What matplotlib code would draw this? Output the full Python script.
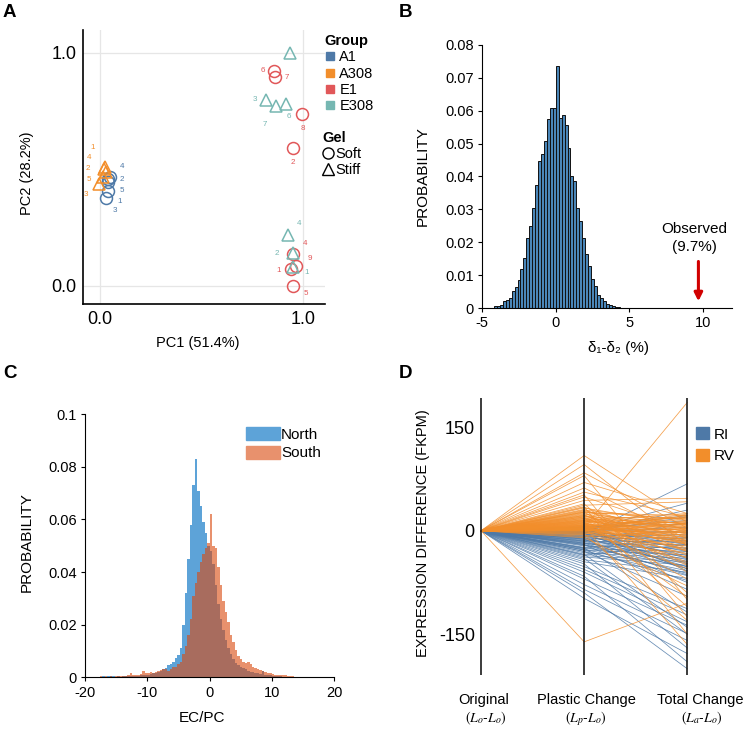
import numpy as np
import matplotlib
matplotlib.use("Agg")
from matplotlib import pyplot as plt
from matplotlib.lines import Line2D
from matplotlib.patches import Patch
import matplotlib.transforms as mtransforms

plt.rcParams['font.family'] = ['Liberation Sans', 'DejaVu Sans']

# ---------------- data: A (PCA) ----------------
a1_pc1 = [0.048, 0.041, 0.038, 0.039, 0.031]
a1_pc2 = [0.465, 0.456, 0.446, 0.408, 0.375]
a1_rep = ['4', '2', '3', '5', '1']

a308_pc1 = [0.025, 0.021, 0.028, 0.012, -0.005]
a308_pc2 = [0.511, 0.499, 0.489, 0.468, 0.435]
a308_rep = ['1', '4', '2', '5', '3']

e1_pc1 = [0.857, 0.864, 0.997, 0.951, 0.951, 0.964, 0.943, 0.951]
e1_pc2 = [0.923, 0.894, 0.737, 0.589, 0.136, 0.084, 0.070, 0.000]
e1_rep = ['6', '7', '8', '2', '4', '9', '1', '5']

e308_pc1 = [0.934, 0.819, 0.865, 0.915, 0.928, 0.951, 0.951]
e308_pc2 = [0.997, 0.797, 0.771, 0.778, 0.217, 0.139, 0.082]
e308_rep = ['', '3', '7', '6', '4', '2', '1']

# label offsets in pixels (dx, dy)
a1_off = [(12, 11), (13, 0), (7, -29), (14, 0), (13, -3)]
a308_off = [(-13, 19), (-15, 12), (-18, 3), (-14, -3), (-13, -10)]
e1_off = [(-11, 0), (11, 0), (0, -14), (0, -14), (12, 10), (14, 8), (-13, -1), (13, -8)]
e308_off = [(0, 0), (-11, 1), (-11, -18), (3, -12), (11, 12), (-16, 0), (14, -6)]

# ---------------- data: B (permutation histogram) ----------------
b_start, b_width = -4.2, 0.2
b_prob = [0.0006, 0.0006, 0.0010, 0.0021, 0.0024, 0.0031, 0.0052, 0.0065, 0.0085, 0.0118,
          0.0151, 0.0212, 0.0248, 0.0304, 0.0375, 0.0446, 0.0469, 0.0507, 0.0575, 0.0607,
          0.0607, 0.0736, 0.0578, 0.0588, 0.0558, 0.0486, 0.0403, 0.0386, 0.0305, 0.0264,
          0.0213, 0.0163, 0.0129, 0.0088, 0.0066, 0.0041, 0.0030, 0.0020, 0.0012, 0.0008,
          0.0005, 0.0003, 0.0002]
observed = 9.7

# ---------------- data: C (EC/PC histograms) ----------------
c_start, c_width = -18.0, 0.4
north = [0.0003, 0.0002, 0.0004, 0.0003, 0.0005, 0.0006, 0.0004, 0.0003, 0.0004, 0.0003,
         0.0004, 0.0005, 0.0004, 0.0006, 0.0005, 0.0006, 0.0006, 0.0008, 0.0008, 0.0010,
         0.0010, 0.0012, 0.0015, 0.0015, 0.0020, 0.0025, 0.0030, 0.0035, 0.0047, 0.0050,
         0.0060, 0.0075, 0.0085, 0.0110, 0.0200, 0.0320, 0.0450, 0.0580, 0.0730, 0.0830,
         0.0710, 0.0650, 0.0590, 0.0550, 0.0500, 0.0480, 0.0430, 0.0350, 0.0280, 0.0220,
         0.0180, 0.0140, 0.0110, 0.0090, 0.0070, 0.0055, 0.0045, 0.0040, 0.0035, 0.0030,
         0.0025, 0.0020, 0.0020, 0.0015, 0.0015, 0.0012, 0.0024, 0.0010, 0.0008, 0.0007,
         0.0006, 0.0005, 0.0004, 0.0004, 0.0003, 0.0003, 0.0002, 0.0002, 0.0001, 0.0001]
south = [0.0003, 0.0005, 0.0003, 0.0004, 0.0002, 0.0004, 0.0003, 0.0005, 0.0004, 0.0006,
         0.0005, 0.0006, 0.0007, 0.0015, 0.0008, 0.0009, 0.0010, 0.0012, 0.0025, 0.0015,
         0.0018, 0.0020, 0.0016, 0.0022, 0.0025, 0.0028, 0.0030, 0.0030, 0.0025, 0.0030,
         0.0040, 0.0040, 0.0050, 0.0060, 0.0090, 0.0120, 0.0160, 0.0220, 0.0310, 0.0360,
         0.0400, 0.0440, 0.0470, 0.0490, 0.0510, 0.0620, 0.0500, 0.0490, 0.0420, 0.0350,
         0.0290, 0.0250, 0.0210, 0.0160, 0.0135, 0.0105, 0.0080, 0.0068, 0.0060, 0.0055,
         0.0060, 0.0050, 0.0040, 0.0035, 0.0030, 0.0028, 0.0025, 0.0020, 0.0018, 0.0015,
         0.0014, 0.0010, 0.0010, 0.0009, 0.0008, 0.0008, 0.0006, 0.0005, 0.0004, 0.0003]

# ---------------- data: D (expression difference) ----------------
rv_plastic = [109, 96, 84, 80, 70, 62, 56, 52, 49, 44, 39, 37, 35, 33, 31, 30, 28, 27, 26, 25,
              24, 23, 22, 21, 20, 19, 18, 17, 16, 15, 14, 13, 12, 11, 10, 10, 9, 8, 8, 7,
              6, 6, 5, 5, 4, 4, 3, 3, 2, 2, 1, 1, 0, 0, -1, -2, -3, -4, -6, -8,
              -10, -161, -5, 12, 18, 15, 13, 11, 9, 7, 5, 3, 2, 1, 22, 27, 29, 34, 20, 16,
              14, 8, 6, 4]
rv_total = [12, -22, 4, -100, 25, -12, 20, -125, 0, 47, -90, 42, -150, 8, -30, 15, -5, -60, 22, -18,
            10, -40, 3, -8, 18, -110, -25, 6, -14, 25, -3, -50, 12, -20, 0, -70, 16, -35, 5, -10,
            20, -165, 186, -28, 9, -45, -6, 14, -16, 2, -33, 7, -2, -55, 11, -12, -22, 4, -38, -1,
            -80, -105, -130, -96, 10, -30, 19, -15, -4, 13, 1, -26, 22, -9, -20, 17, -2, -15, -48, 3,
            8, -18, -7, 24]
ri_plastic = [-98, -90, -85, -78, -70, -66, -60, -56, -52, -48, -45, -42, -40, -38, -36, -34, -32, -30, -28, -27,
              -26, -25, -24, -22, -21, -20, -19, -18, -17, -16, -15, -14, -13, -12, -11, -10, -9, -8, -7, -6,
              -5, -5, -4, -3, -3, -2, -2, -1, -1, 0, 0, 1, 2, 3, 4, 5, 6, -12, -20, -30,
              -8, -15, -25, -35, -18, -10, -28, -4]
ri_total = [-178, -200, -159, -149, -137, -190, -132, -122, -113, -170, -69, -60, -150, -50, -45, -140, -40, -65, -35, -58,
            -30, -118, -52, -25, -44, -62, -20, -38, -48, -15, -55, -33, -28, -10, -42, -22, -5, -36, -18, -47,
            68, -12, -30, -8, 30, -26, 20, -15, 5, 40, -40, -20, 15, -3, 22, -58, 10, -75, -85, -95,
            0, 12, -10, -20, -64, -52, -72, -55]
d_stages = ['Original', 'Plastic Change', 'Total Change']
d_formula = [r'$(L_o$-$L_o)$', r'$(L_p$-$L_o)$', r'$(L_a$-$L_o)$']

# colours
C_A1, C_A308, C_E1, C_E308 = '#4E79A7', '#F28E2B', '#E15759', '#76B7B2'

fig = plt.figure(figsize=(7.5, 7.29), dpi=100)

# ================= A =================
axA = fig.add_axes([0.111, 0.5826, 0.322, 0.376])
axA.set_xlim(-0.083, 1.107)
axA.set_ylim(-0.08, 1.097)
axA.grid(True, color='#e6e6e6', lw=0.9)
axA.set_axisbelow(True)
for s in ['top', 'right']:
    axA.spines[s].set_visible(False)
for s in ['left', 'bottom']:
    axA.spines[s].set_linewidth(1.2)
axA.set_xticks([0, 1], ['0.0', '1.0'])
axA.set_yticks([0, 1], ['0.0', '1.0'])
axA.tick_params(length=0, labelsize=13, pad=5)

groups = [(a1_pc1, a1_pc2, a1_rep, a1_off, C_A1, 'o'),
          (a308_pc1, a308_pc2, a308_rep, a308_off, C_A308, '^'),
          (e1_pc1, e1_pc2, e1_rep, e1_off, C_E1, 'o'),
          (e308_pc1, e308_pc2, e308_rep, e308_off, C_E308, '^')]
for xs, ys, reps, offs, col, mk in groups:
    axA.plot(xs, ys, ls='none', marker=mk, markersize=8.6, markerfacecolor='none',
             markeredgecolor=col, markeredgewidth=1.1)
    for x, y, r, o in zip(xs, ys, reps, offs):
        if r:
            axA.annotate(r, (x, y), xytext=o, textcoords='offset pixels',
                         ha='center', va='center', fontsize=5.8, color=col)

axA.set_xlabel('PC1 (51.4%)', fontsize=10.5)
axA.xaxis.set_label_coords(0.4745, -0.116)
axA.set_ylabel('PC2 (28.2%)', fontsize=10.5)
axA.yaxis.set_label_coords(-0.204, 0.479)

grp_handles = [Line2D([], [], ls='none', marker='s', markersize=6, color=c)
               for c in [C_A1, C_A308, C_E1, C_E308]]
leg1 = axA.legend(grp_handles, ['A1', 'A308', 'E1', 'E308'], title='Group',
                  loc='upper left', bbox_to_anchor=(1.0, 0.985), frameon=False,
                  fontsize=10.5, title_fontproperties={'weight': 'bold', 'size': 10.5},
                  alignment='left', handlelength=0.7, handletextpad=0.3,
                  labelspacing=0.15, borderpad=0, borderaxespad=0)
axA.add_artist(leg1)
gel_handles = [Line2D([], [], ls='none', marker=m, markersize=8, markerfacecolor='none',
                      markeredgecolor='black', markeredgewidth=1.0) for m in ['o', '^']]
axA.legend(gel_handles, ['Soft', 'Stiff'], title='Gel',
           loc='upper left', bbox_to_anchor=(0.99, 0.632), frameon=False,
           fontsize=10.5, title_fontproperties={'weight': 'bold', 'size': 10.5},
           alignment='left', handlelength=0.8, handletextpad=0.1,
           labelspacing=0.15, borderpad=0, borderaxespad=0)

# ================= B =================
axB = fig.add_axes([0.643, 0.5775, 0.3333, 0.3608])
b_left = b_start + b_width * np.arange(len(b_prob))
axB.bar(b_left, b_prob, width=b_width, align='edge', color='#4A86B8',
        edgecolor='#111111', linewidth=0.7)
axB.set_xlim(-5, 12)
axB.set_ylim(0, 0.08)
for s in ['top', 'right']:
    axB.spines[s].set_visible(False)
axB.set_xticks([-5, 0, 5, 10], ['-5', '0', '5', '10'])
axB.set_yticks(np.arange(0, 0.081, 0.01),
               ['0', '0.01', '0.02', '0.03', '0.04', '0.05', '0.06', '0.07', '0.08'])
axB.tick_params(direction='out', length=3, labelsize=10.5, pad=3)
axB.set_ylabel('PROBABILITY', fontsize=11)
axB.yaxis.set_label_coords(-0.209, 0.5)
axB.set_xlabel('δ₁-δ₂ (%)', fontsize=11)
axB.xaxis.set_label_coords(0.544, -0.125)
axB.annotate('', xy=(observed, 0.0012), xytext=(observed, 0.0150),
             arrowprops=dict(arrowstyle='-|>', color='#D10000', lw=2.2, mutation_scale=12))
axB.text(9.4, 0.0163, 'Observed\n(%.1f%%)' % observed, ha='center', va='bottom',
         fontsize=11, linespacing=1.4)

# ================= C =================
axC = fig.add_axes([0.1133, 0.0709, 0.3324, 0.3608])
c_left = c_start + c_width * np.arange(len(north))
north_a = np.array(north)
south_a = np.array(south)
axC.bar(c_left, north_a, width=c_width, align='edge', color='#5DA3D8', linewidth=0, label='North')
axC.bar(c_left, south_a, width=c_width, align='edge', color='#E8916D', linewidth=0, label='South')
axC.bar(c_left, np.minimum(north_a, south_a), width=c_width, align='edge',
        color='#A86C5E', linewidth=0)
axC.set_xlim(-20, 20)
axC.set_ylim(0, 0.1)
for s in ['top', 'right']:
    axC.spines[s].set_visible(False)
axC.set_xticks([-20, -10, 0, 10, 20], ['-20', '-10', '0', '10', '20'])
axC.set_yticks([0, 0.02, 0.04, 0.06, 0.08, 0.1], ['0', '0.02', '0.04', '0.06', '0.08', '0.1'])
axC.tick_params(direction='out', length=3, labelsize=10.5, pad=3)
axC.set_ylabel('PROBABILITY', fontsize=11)
axC.yaxis.set_label_coords(-0.205, 0.516)
axC.set_xlabel('EC/PC', fontsize=11)
axC.xaxis.set_label_coords(0.468, -0.128)
axC.legend(handles=[Patch(color='#5DA3D8'), Patch(color='#E8916D')], labels=['North', 'South'],
           loc='upper left', bbox_to_anchor=(0.646, 0.95), frameon=False, fontsize=11,
           handlelength=2.2, handleheight=0.9, handletextpad=0.1, labelspacing=0.25,
           borderpad=0, borderaxespad=0)

# ================= D =================
axD = fig.add_axes([0.6331, 0.0741, 0.2998, 0.3796])
C_RI, C_RV = '#4E79A7', '#F28E2B'
for p, t in zip(ri_plastic, ri_total):
    axD.plot([0, 1, 2], [0, p, t], color=C_RI, lw=0.55, alpha=0.85)
for p, t in zip(rv_plastic, rv_total):
    axD.plot([0, 1, 2], [0, p, t], color=C_RV, lw=0.55, alpha=0.85)
for xv in [0, 1, 2]:
    axD.axvline(xv, color='#1a1a1a', lw=1.2)
axD.set_xlim(-0.06, 2.12)
axD.set_ylim(-209, 192)
for s in axD.spines.values():
    s.set_visible(False)
axD.set_xticks([])
axD.set_yticks([-150, 0, 150], ['-150', '0', '150'])
axD.tick_params(length=0, labelsize=13, pad=0)
axD.set_ylabel('EXPRESSION DIFFERENCE (FKPM)', fontsize=10.5)
axD.yaxis.set_label_coords(-0.199, 0.513)
trD = mtransforms.blended_transform_factory(axD.transData, axD.transAxes)
stage_x = [0.03, 1.02, 2.13]
formula_x = [0.05, 1.02, 2.14]
for sx, fx, st, fm in zip(stage_x, formula_x, d_stages, d_formula):
    axD.text(sx, -0.09, st, transform=trD, ha='center', va='center', fontsize=10.5)
    axD.text(fx, -0.157, fm, transform=trD, ha='center', va='center', fontsize=10,
             math_fontfamily='stix')
axD.legend(handles=[Patch(color=C_RI), Patch(color=C_RV)], labels=['RI', 'RV'],
           loc='upper left', bbox_to_anchor=(0.985, 0.895), frameon=False, fontsize=11,
           handlelength=0.85, handleheight=0.85, handletextpad=0.3, labelspacing=0.45,
           borderpad=0, borderaxespad=0)

# panel letters
for lx, ly, letter in [(0.004, 0.995, 'A'), (0.532, 0.995, 'B'),
                       (0.004, 0.499, 'C'), (0.532, 0.499, 'D')]:
    fig.text(lx, ly, letter, fontsize=13.5, fontweight='bold', va='top', ha='left')

fig.savefig('out.png', dpi=100)
